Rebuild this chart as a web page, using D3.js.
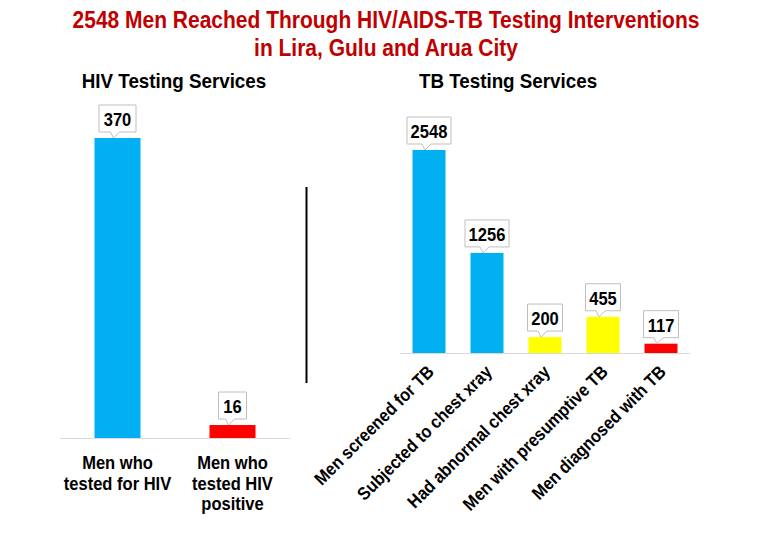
<!DOCTYPE html>
<html><head><meta charset="utf-8">
<script src="https://cdn.jsdelivr.net/npm/d3@7"></script>
<style>
html,body{margin:0;padding:0;background:#fff;}
svg{display:block;}
text{font-family:"Liberation Sans Narrow","Arial Narrow","Liberation Sans",Arial,sans-serif;font-weight:bold;}
</style></head>
<body>
<svg id="chart" width="771" height="550"></svg>
<script>
// ---- data ----
const titleLines = ["2548 Men Reached Through HIV/AIDS-TB Testing Interventions", "in Lira, Gulu and Arua City"];
const hivTitle = "HIV Testing Services";
const tbTitle = "TB Testing Services";

const hivCategories = ["Men who tested for HIV", "Men who tested HIV positive"];
const hivLabelLines = [["Men who", "tested for HIV"], ["Men who", "tested HIV", "positive"]];
const hivValues = [370, 16];
const hivColors = ["#00B0F0", "#FF0000"];

const tbCategories = ["Men screened for TB", "Subjected to chest xray", "Had abnormal chest xray", "Men with presumptive TB", "Men diagnosed with TB"];
const tbValues = [2548, 1256, 200, 455, 117];
const tbColors = ["#00B0F0", "#00B0F0", "#FFFF00", "#FFFF00", "#FF0000"];

// ---- drawing ----
const svg = d3.select("#chart");
const SX = 0.87; // horizontal compression to mimic a narrow bold font

function narrowText(g, x, y, str, size, anchor, sx, fill) {
  return g.append("text")
    .attr("transform", `translate(${x},${y}) scale(${sx || SX},1)`)
    .attr("text-anchor", anchor || "middle")
    .attr("font-size", size).attr("fill", fill || "#000")
    .text(str);
}

titleLines.forEach((t, i) => {
  narrowText(svg, 386, 28 + i * 28, t, 24, "middle", 0.875, "#C00000").attr("class", "title");
});

narrowText(svg, 174, 88, hivTitle, 20, "middle", 0.94);
narrowText(svg, 508, 88, tbTitle, 20, "middle", 0.94);

function callout(g, cx, barTop, value, boxW) {
  const boxH = 27, gap = 6;
  const bottom = barTop - gap, top = bottom - boxH;
  const left = cx - boxW / 2, right = cx + boxW / 2;
  const px = cx - 3;
  const path = d3.path();
  path.moveTo(left, top);
  path.lineTo(right, top);
  path.lineTo(right, bottom);
  path.lineTo(px + 5, bottom);
  path.lineTo(px - 1, barTop);
  path.lineTo(px - 4, bottom);
  path.lineTo(left, bottom);
  path.closePath();
  g.append("path").attr("d", path.toString())
    .attr("fill", "#fff").attr("stroke", "#BFBFBF").attr("stroke-width", 1);
  narrowText(g, cx, bottom - 6, value, 19, "middle");
}

// HIV panel
const hivBase = 438;
const xH = d3.scalePoint().domain(hivCategories).range([60, 290]).padding(0.5);
const yH = d3.scaleLinear().domain([0, 370]).range([hivBase, 138]);
const hivBarW = 46;
const gH = svg.append("g");
gH.selectAll("rect").data(hivCategories).join("rect")
  .attr("x", d => xH(d) - hivBarW / 2)
  .attr("y", (d, i) => yH(hivValues[i]))
  .attr("width", hivBarW)
  .attr("height", (d, i) => hivBase - yH(hivValues[i]))
  .attr("fill", (d, i) => hivColors[i]);
gH.append("line").attr("x1", 60).attr("x2", 290).attr("y1", hivBase + 0.5).attr("y2", hivBase + 0.5)
  .attr("stroke", "#D9D9D9").attr("stroke-width", 1);
hivCategories.forEach((c, i) => {
  callout(gH, xH(c), yH(hivValues[i]), hivValues[i], String(hivValues[i]).length * 9 + 10);
  hivLabelLines[i].forEach((ln, j) => {
    narrowText(gH, xH(c), 469 + j * 20.5, ln, 19, "middle");
  });
});

// divider
svg.append("line").attr("x1", 306.5).attr("x2", 306.5).attr("y1", 187).attr("y2", 383)
  .attr("stroke", "#000").attr("stroke-width", 2);

// TB panel
const tbBase = 353;
const xT = d3.scalePoint().domain(tbCategories).range([400, 690]).padding(0.5);
const yT = d3.scaleLinear().domain([0, 2548]).range([tbBase, 150]);
const tbBarW = 33;
const gT = svg.append("g");
gT.selectAll("rect").data(tbCategories).join("rect")
  .attr("x", d => xT(d) - tbBarW / 2)
  .attr("y", (d, i) => yT(tbValues[i]))
  .attr("width", tbBarW)
  .attr("height", (d, i) => tbBase - yT(tbValues[i]))
  .attr("fill", (d, i) => tbColors[i]);
gT.append("line").attr("x1", 400).attr("x2", 690).attr("y1", tbBase + 0.5).attr("y2", tbBase + 0.5)
  .attr("stroke", "#D9D9D9").attr("stroke-width", 1);
tbCategories.forEach((c, i) => {
  callout(gT, xT(c), yT(tbValues[i]), tbValues[i], String(tbValues[i]).length * 9 + 8);
  gT.append("text")
    .attr("transform", `translate(${xT(c) + 6},${tbBase + 20}) rotate(-45) scale(0.9,1)`)
    .attr("text-anchor", "end").attr("font-size", 18).attr("fill", "#000")
    .text(c);
});
</script>
</body></html>
